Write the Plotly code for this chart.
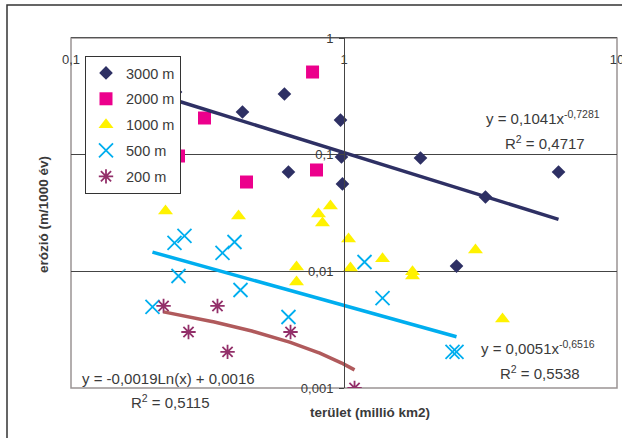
import numpy as np
import plotly.graph_objects as go

# ---- data ----
x_3000 = [0.2415, 0.4247, 0.605, 0.626, 0.971, 0.979, 0.987, 1.906, 3.298, 6.107, 2.583]
y_3000 = [0.344, 0.2322, 0.331, 0.0710, 0.198, 0.0955, 0.0561, 0.0936, 0.0434, 0.0710, 0.0111]

x_2000 = [0.767, 0.3083, 0.2476, 0.4394, 0.793]
y_2000 = [0.511, 0.2062, 0.0974, 0.0583, 0.0739]

x_1000 = [0.2219, 0.4108, 0.8064, 0.892, 0.834, 0.670, 0.670, 1.039, 1.056, 1.384, 1.782, 1.782, 3.031, 3.807]
y_1000 = [0.0329, 0.0298, 0.0310, 0.0363, 0.0260, 0.0109, 0.0081, 0.0189, 0.0107, 0.0128, 0.0099, 0.0091, 0.0152, 0.0039]

x_500 = [0.1988, 0.2394, 0.2604, 0.2476, 0.3589, 0.3971, 0.4177, 0.626, 1.189, 1.384, 2.497, 2.583]
y_500 = [0.00495, 0.0175, 0.0201, 0.00912, 0.01437, 0.01784, 0.00692, 0.00406, 0.01202, 0.0059, 0.00204, 0.00204]

x_200 = [0.2183, 0.2694, 0.344, 0.3745, 0.637, 1.093]
y_200 = [0.00505, 0.00302, 0.00505, 0.00204, 0.00302, 0.0010]

series_names = ["3000 m", "2000 m", "1000 m", "500 m", "200 m"]

# trendline coefficients shown on the chart
pow_3000 = (0.1041, -0.7281)
pow_500 = (0.0051, -0.6516)
log_200 = (-0.0019, 0.0016)

x_ticks = [0.1, 1, 10]
x_ticktext = ["0,1", "1", "10"]
y_ticks = [0.001, 0.01, 0.1, 1]
y_ticktext = ["0,001", "0,01", "0,1", "1"]

# ---- colours ----
c_navy = "#2e3064"
c_mag = "#ec008c"
c_yel = "#fff200"
c_cyan = "#00aeef"
c_ast = "#93306a"
c_brown = "#b05a5c"
txt = "#3a3a3a"
FONT = "Liberation Sans, Arial, sans-serif"

fig = go.Figure()

fig.add_trace(go.Scatter(x=x_3000, y=y_3000, mode="markers", name=series_names[0],
                         legendgroup="a",
                         marker=dict(symbol="diamond", size=10.5, color=c_navy, line=dict(width=0))))
fig.add_trace(go.Scatter(x=x_2000, y=y_2000, mode="markers", name=series_names[1],
                         legendgroup="b",
                         marker=dict(symbol="square", size=13, color=c_mag, line=dict(width=0))))
fig.add_trace(go.Scatter(x=x_1000, y=y_1000, mode="markers", name=series_names[2],
                         legendgroup="c",
                         marker=dict(symbol="triangle-up", size=13, color=c_yel, line=dict(width=0))))
fig.add_trace(go.Scatter(x=x_500, y=y_500, mode="markers", name=series_names[3],
                         legendgroup="d",
                         marker=dict(symbol="x-thin-open", size=14, color=c_cyan,
                                     line=dict(width=1.8, color=c_cyan))))
fig.add_trace(go.Scatter(x=x_200, y=y_200, mode="markers", name=series_names[4],
                         legendgroup="e",
                         marker=dict(symbol="asterisk-open", size=12, color=c_ast,
                                     line=dict(width=1.8, color=c_ast))))

# trendlines over each series' x range
tx1 = np.geomspace(min(x_3000), max(x_3000), 120)
fig.add_trace(go.Scatter(x=tx1, y=pow_3000[0] * tx1 ** pow_3000[1], mode="lines",
                         line=dict(color=c_navy, width=3.5), showlegend=False, hoverinfo="skip"))
tx2 = np.geomspace(min(x_500), max(x_500), 120)
fig.add_trace(go.Scatter(x=tx2, y=pow_500[0] * tx2 ** pow_500[1], mode="lines",
                         line=dict(color=c_cyan, width=3.5), showlegend=False, hoverinfo="skip"))
tx3 = np.geomspace(min(x_200), max(x_200), 120)
fig.add_trace(go.Scatter(x=tx3, y=log_200[0] * np.log(tx3) + log_200[1], mode="lines",
                         line=dict(color=c_brown, width=3.5), showlegend=False, hoverinfo="skip"))

L, R, T, B = 71, 5, 38, 50
W, H = 622, 438
pw, ph = W - L - R, H - T - B


def px(xp):
    return (xp - L) / pw


def py(yp):
    return (H - B - yp) / ph


fig.update_layout(
    width=W, height=H,
    margin=dict(l=L, r=R, t=T, b=B, autoexpand=False),
    paper_bgcolor="white", plot_bgcolor="white",
    font=dict(family=FONT, color=txt, size=13),
    showlegend=True,
    legend=dict(x=px(85), y=py(56), xanchor="left", yanchor="top",
                bgcolor="white", bordercolor="#333333", borderwidth=1,
                font=dict(size=14.5, color=txt), traceorder="grouped",
                tracegroupgap=4, itemwidth=30),
    xaxis=dict(type="log", range=[-1, 1], side="top", tickvals=x_ticks, ticktext=x_ticktext,
               showgrid=False, zeroline=False, showline=True, linecolor="#555555", linewidth=1,
               ticks="", ticklabelposition="inside", ticklabeloverflow="allow",
               ticklabelstandoff=17, tickfont=dict(size=13, color=txt), automargin=False),
    yaxis=dict(type="log", range=[-3, 0], anchor="free", position=0.5,
               tickvals=y_ticks, ticktext=y_ticktext,
               showgrid=True, gridcolor="#444444", gridwidth=1, zeroline=False,
               showline=True, linecolor="#444444", linewidth=1,
               ticks="outside", ticklen=5, tickcolor="#444444", ticklabelstandoff=3,
               tickfont=dict(size=13, color=txt), automargin=False),
)

# plot border and outer chart border
fig.add_shape(type="rect", xref="paper", yref="paper", x0=0, x1=1, y0=0, y1=1,
              line=dict(color="#9a9494", width=1.5), layer="below")
fig.add_shape(type="rect", xref="paper", yref="paper", x0=px(7), x1=px(630), y0=py(446), y1=py(5),
              line=dict(color="#333333", width=1.5), layer="below")

ann = [
    ("y = 0,1041x<sup>-0,7281</sup>", 543, 118),
    ("R<sup>2</sup> = 0,4717", 545, 142),
    ("y = 0,0051x<sup>-0,6516</sup>", 538, 347),
    ("R<sup>2</sup> = 0,5538", 540, 372),
    ("y = -0,0019Ln(x) + 0,0016", 168, 378),
    ("R<sup>2</sup> = 0,5115", 170, 401),
]
for t, xx, yy in ann:
    fig.add_annotation(text=t, x=px(xx), y=py(yy), xref="paper", yref="paper",
                       showarrow=False, xanchor="center", yanchor="middle",
                       font=dict(size=15, color=txt, family=FONT))

fig.add_annotation(text="<b>terület (millió km2)</b>", x=px(370), y=py(412), xref="paper", yref="paper",
                   showarrow=False, xanchor="center", yanchor="middle",
                   font=dict(size=13.5, color=txt, family=FONT))
fig.add_annotation(text="<b>erózió (m/1000 év)</b>", x=px(43), y=py(215), xref="paper", yref="paper",
                   showarrow=False, xanchor="center", yanchor="middle", textangle=-90,
                   font=dict(size=13.5, color=txt, family=FONT))

fig.write_html("out.html")
